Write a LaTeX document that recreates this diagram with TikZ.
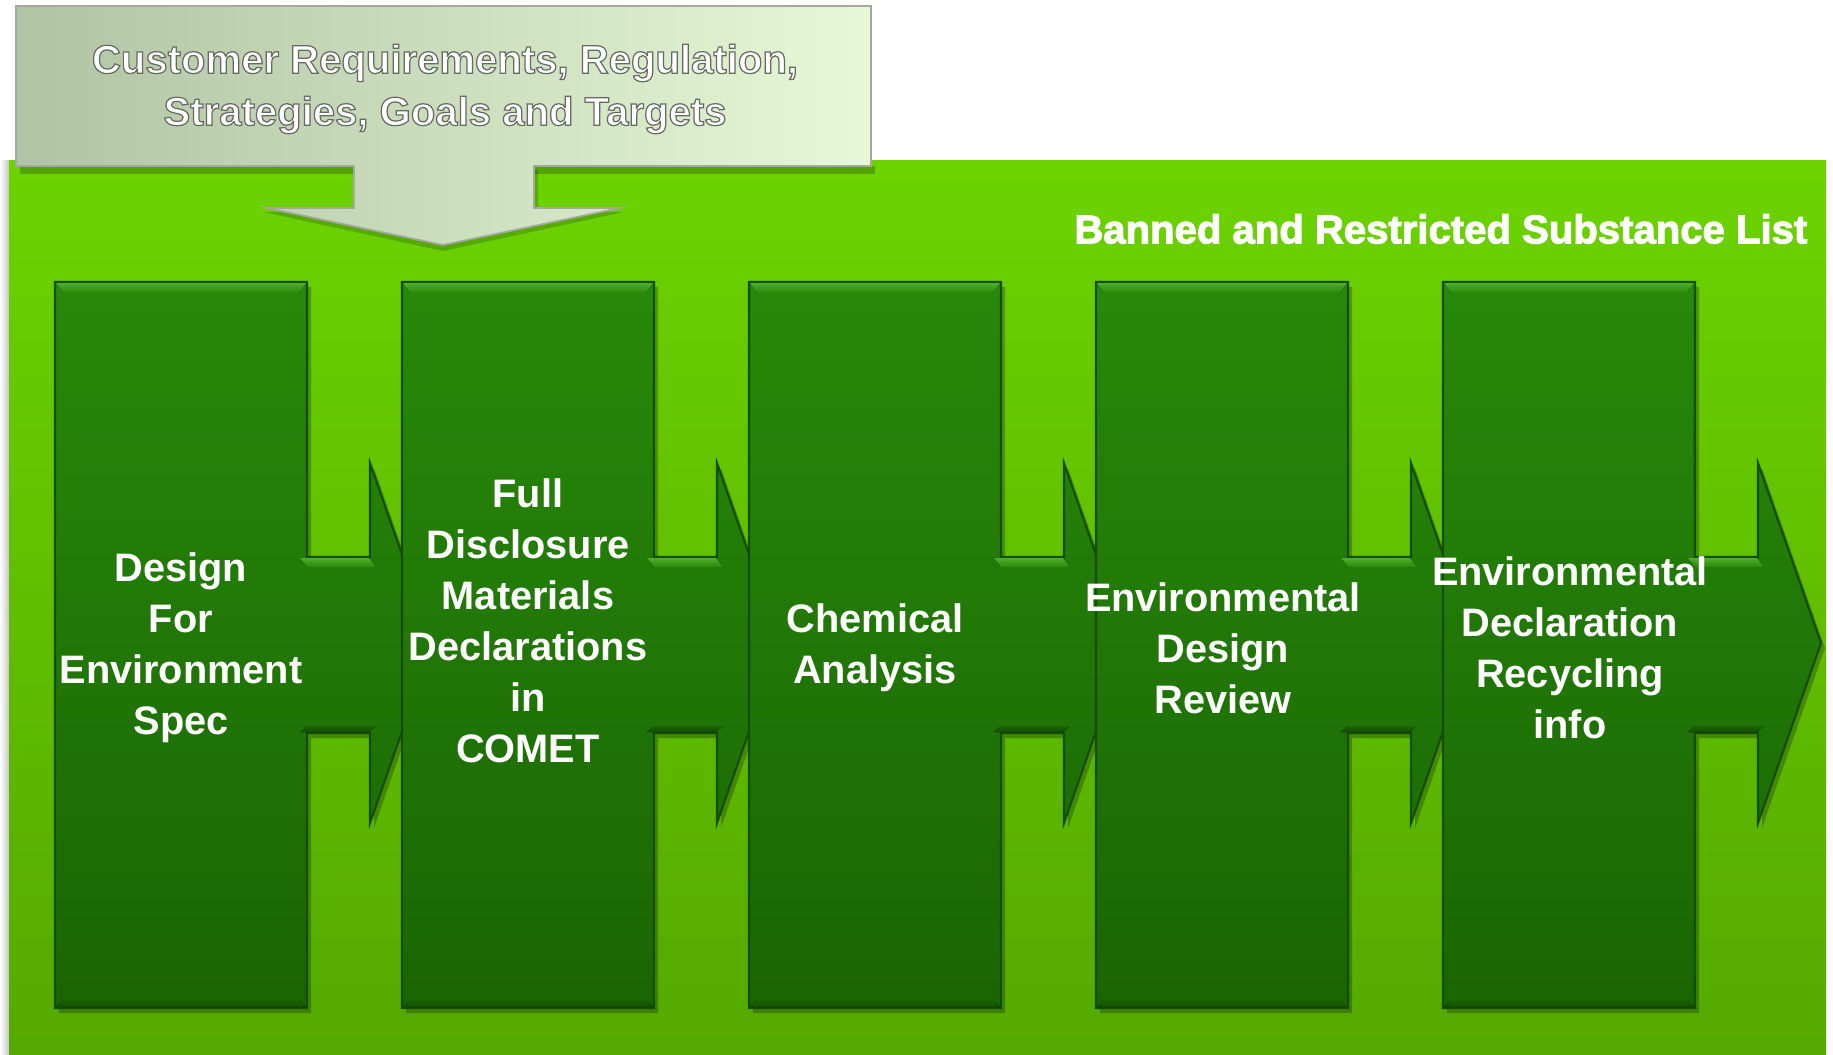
\documentclass[tikz,border=0pt]{standalone}
\usepackage{fontspec}
\setmainfont{Liberation Sans}
\definecolor{panelTop}{HTML}{6CD300}
\definecolor{panelBot}{HTML}{55A900}
\definecolor{boxTop}{HTML}{28890A}
\definecolor{boxBot}{HTML}{1A6503}
\definecolor{boxHi}{HTML}{4FAE2A}
\definecolor{boxLo}{HTML}{124D02}
\definecolor{calloutL}{HTML}{B0C3A3}
\definecolor{calloutR}{HTML}{E6F8D6}
\newcommand{\olon}{\special{pdf:literal direct 2 Tr 0.40 0.42 0.38 RG 0.35 w}}
\newcommand{\olheavy}{\special{pdf:literal direct 2 Tr 1 1 1 RG 0.3 w}}
\newcommand{\oloff}{\special{pdf:literal direct 0 Tr}}
\tikzset{
  boxtxt/.style={text=white, align=center, font=\fontsize{11.3}{14.5}\selectfont\bfseries, inner sep=0pt},
  calltxt/.style={text=white, align=center, font=\fontsize{11.4}{14.8}\selectfont\bfseries, inner sep=0pt},
  bantxt/.style={text=white, font=\fontsize{11.4}{14}\selectfont\bfseries, inner sep=0pt, anchor=east},
  chevshape/.style={top color=boxTop, bottom color=boxBot, draw=boxLo, line width=0.6pt},
  shadowshape/.style={fill=black, opacity=0.25},
}
\begin{document}
\begin{tikzpicture}[x=0.01cm,y=-0.01cm]
\useasboundingbox (0,0) rectangle (1833,1055);
% left shadow strip
\fill[left color=white, right color=gray!45] (0,161) rectangle (9,1055);
% panel
\fill[top color=panelTop, bottom color=panelBot] (9,161) rectangle (1826,1055);
% callout shadow
\fill[black, opacity=0.22] (20,166) rectangle (875,174);
\fill[black, opacity=0.18] (358,170) -- (538,170) -- (538,212) -- (624,212) -- (443,251) -- (263,212) -- (358,212) -- cycle;
% callout
\path[left color=calloutL, right color=calloutR, draw=gray!70, line width=0.5pt]
  (16,6) -- (871,6) -- (871,166) -- (534,166) -- (534,208) -- (620,208) -- (443,245)
  -- (267,208) -- (354,208) -- (354,166) -- (16,166) -- cycle;
\node[calltxt] (req) at (445,89) {\olon Customer Requirements, Regulation,\\Strategies, Goals and Targets\oloff};
% banned list label
\node[bantxt] (ban) at (1808,229) {\olheavy Banned and Restricted Substance List\oloff};
% chevrons
\foreach \L/\n in {55/1,402/2,749/3,1096/4,1443/5}{
  \fill[shadowshape] (\L+4,287) -- (\L+256,287) -- (\L+256,562) -- (\L+319,562) -- (\L+319,468) -- (\L+382,648)
    -- (\L+319,828) -- (\L+319,738) -- (\L+256,738) -- (\L+256,1013) -- (\L+4,1013) -- cycle;
  \path[chevshape] (\L,282) -- (\L+252,282) -- (\L+252,557) -- (\L+315,557) -- (\L+315,463) -- (\L+378,643)
    -- (\L+315,823) -- (\L+315,733) -- (\L+252,733) -- (\L+252,1008) -- (\L,1008) -- cycle;
  \fill[top color=boxHi, bottom color=boxTop] (\L+1,283) -- (\L+251,283) -- (\L+244,293) -- (\L+8,293) -- cycle;
  \fill[top color=boxHi, bottom color=boxTop] (\L+245,558) -- (\L+314,558) -- (\L+321,567) -- (\L+252,567) -- cycle;
  \fill[top color=boxBot, bottom color=boxLo] (\L+8,1000) -- (\L+244,1000) -- (\L+251,1007) -- (\L+1,1007) -- cycle;
  \fill[top color=boxBot, bottom color=boxLo] (\L+252,726) -- (\L+321,726) -- (\L+314,732) -- (\L+245,732) -- cycle;
}
% texts
\node[boxtxt] (t1) at (181,648) {Design\\For\\Environment\\Spec};
\node[boxtxt] (t2) at (528,621) {Full\\Disclosure\\Materials\\Declarations\\in\\COMET};
\node[boxtxt] (t3) at (875,648) {Chemical\\Analysis};
\node[boxtxt] (t4) at (1223,648) {Environmental\\Design\\Review};
\node[boxtxt] (t5) at (1570,648) {Environmental\\Declaration\\Recycling\\info};
\end{tikzpicture}
\end{document}
